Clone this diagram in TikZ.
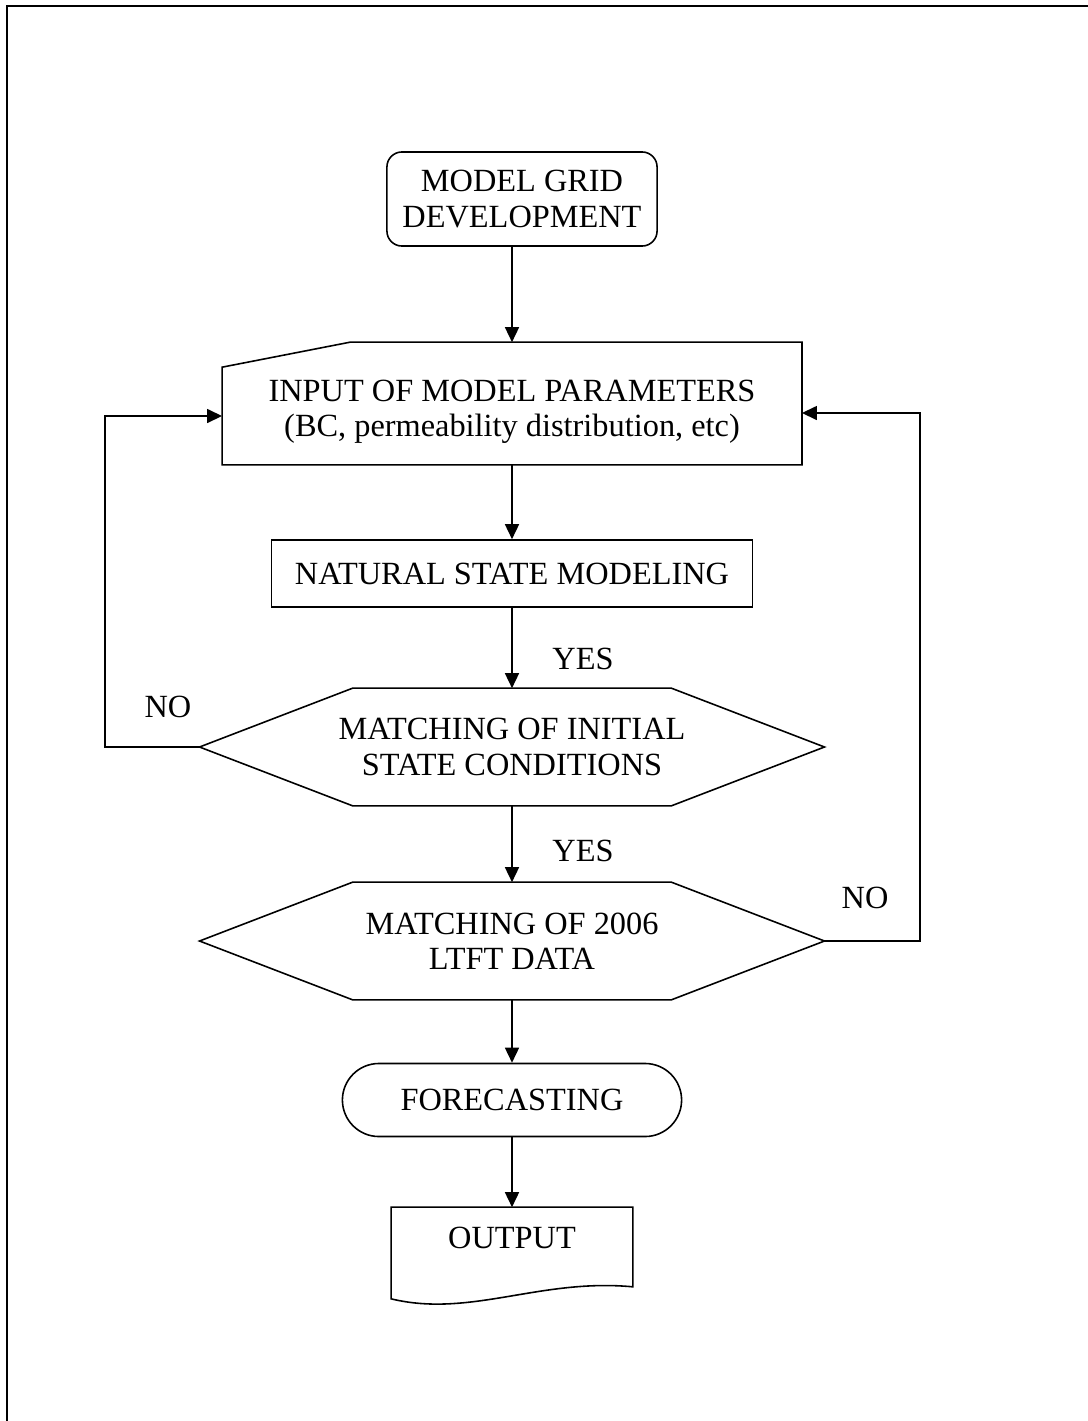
\documentclass[tikz,border=0pt]{standalone}
\usepackage{fontspec}
\setmainfont{Liberation Serif}
\usetikzlibrary{arrows.meta,shapes.misc,positioning}
\tikzset{
    basic/.style    = {rectangle, align=center, inner sep=0pt, font=\fontsize{9.2}{10}\selectfont},
    startbox/.style = {basic, draw, rounded corners=0.15cm},
    inputbox/.style = {basic},
    procbox/.style  = {basic, draw},
    decision/.style = {basic, minimum width=6.23cm, minimum height=1.16cm},
    terminal/.style = {basic, draw, rounded rectangle},
    docbox/.style   = {basic},
    tag/.style      = {font=\fontsize{9.2}{10}\selectfont, inner sep=0pt},
    arr/.style      = {-{Triangle[length=1.5mm,width=1.4mm]}}
}
% frames for the shapes that have no ready node shape
\newcommand{\hexframe}[1]{%
  \draw (#1.west) -- ([xshift=1.53cm]#1.north west) -- ([xshift=-1.53cm]#1.north east)
    -- (#1.east) -- ([xshift=-1.53cm]#1.south east) -- ([xshift=1.53cm]#1.south west) -- cycle;}
\begin{document}
\begin{tikzpicture}[x=0.01cm, y=-0.01cm, line width=0.45pt]
	\useasboundingbox (0,0) rectangle (1088,1421);
	\draw[line width=0.7pt] (7,1421) -- (7,6) -- (1088,6);
	% boxes
	\node[startbox, minimum width=2.70cm, minimum height=0.94cm] (mgd) at (522,199) {MODEL GRID\\DEVELOPMENT};
	\node[inputbox, minimum width=5.78cm, minimum height=1.21cm] (inp) at (512,403.5) {};
	\draw ([yshift=-0.25cm]inp.north west) -- ([xshift=1.28cm]inp.north west) -- (inp.north east)
		-- (inp.south east) -- (inp.south west) -- cycle;
	\node[basic] (inptext) at (512,412) {INPUT OF MODEL PARAMETERS\\(BC, permeability distribution, etc)};
	\node[procbox, minimum width=4.81cm, minimum height=0.67cm] (nat) at (512,573.5) {NATURAL STATE MODELING};
	\node[decision] (init) at (512,747) {MATCHING OF INITIAL\\STATE CONDITIONS};
	\hexframe{init}
	\node[decision] (ltft) at (512,941) {MATCHING OF 2006\\LTFT DATA};
	\hexframe{ltft}
	\node[terminal, minimum width=3.39cm, minimum height=0.73cm] (fore) at (512,1100) {FORECASTING};
	\node[docbox, minimum width=2.40cm, minimum height=0.60cm] (out) at (512,1238) {OUTPUT};
	\draw (out.north west) -- (out.north east) -- ([yshift=-0.18cm]out.south east)
		.. controls (540,1278) and (470,1318) .. ([yshift=-0.30cm]out.south west) -- cycle;
	% connectors
	\draw[arr] (inp.north |- mgd.south) -- (inp.north);
	\draw[arr] (inp.south) -- (nat.north);
	\draw[arr] (nat.south) -- (init.north);
	\draw[arr] (init.south) -- (ltft.north);
	\draw[arr] (ltft.south) -- (fore.north);
	\draw[arr] (fore.south) -- (out.north);
	\coordinate (lft) at (105,416);
	\coordinate (rgt) at (920,413);
	\draw[arr] (init.west) -| (lft) -- (lft -| inp.west);
	\draw[arr] (ltft.east) -| (rgt) -- (rgt -| inp.east);
	% labels
	\node[tag] (yes1) at (583,659) {YES};
	\node[tag] (yes2) at (583,851) {YES};
	\node[tag] (no1) at (168,707) {NO};
	\node[tag] (no2) at (865,898) {NO};
\end{tikzpicture}
\end{document}
